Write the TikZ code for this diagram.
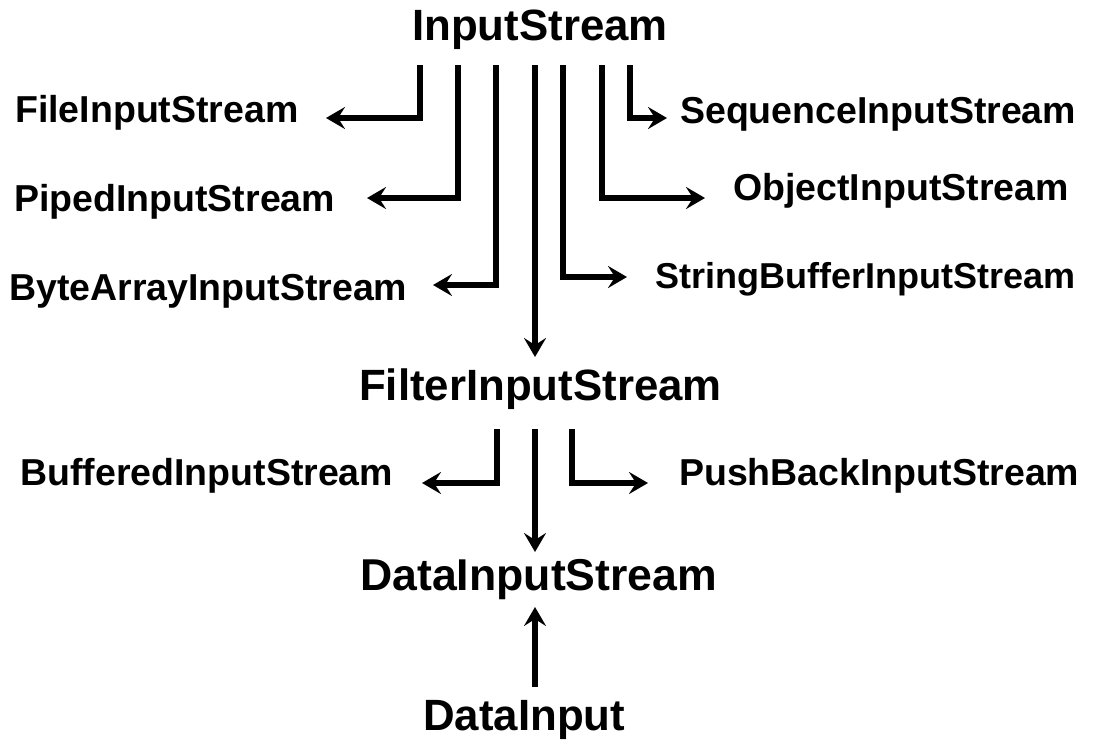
\documentclass[tikz,border=0pt]{standalone}
\usepackage{fontspec}
\setmainfont{Liberation Sans}
\usetikzlibrary{arrows.meta}
\begin{document}
\begin{tikzpicture}[x=1pt,y=-1pt,
  lbl/.style={anchor=base west,inner sep=0pt,font=\bfseries\fontsize{37.5}{38}\selectfont},
  mainlbl/.style={anchor=base west,inner sep=0pt,font=\bfseries\fontsize{43.8}{44}\selectfont},
  arr/.style={line width=5.5pt,line join=miter,-{Stealth[length=19pt,width=22pt,inset=7pt]}}]
\useasboundingbox[fill=white] (0,0) rectangle (1094,740);

% class names
\node[mainlbl] (in)   at (412,40)  {InputStream};
\node[lbl] (file)     at (15,122)  {FileInputStream};
\node[lbl] (piped)    at (14,211)  {PipedInputStream};
\node[lbl] (bytes)    at (9,300)   {ByteArrayInputStream};
\node[lbl] (seq)      at (680,123) {SequenceInputStream};
\node[lbl] (obj)      at (733,200) {ObjectInputStream};
\node[lbl,font=\bfseries\fontsize{36}{36}\selectfont] (sbuf) at (655,288) {StringBufferInputStream};
\node[mainlbl] (filt) at (359,400) {FilterInputStream};
\node[lbl] (buf)      at (20,485)  {BufferedInputStream};
\node[lbl] (push)     at (679,485) {PushBackInputStream};
\node[mainlbl,font=\bfseries\fontsize{44.6}{45}\selectfont] (data) at (360,590) {DataInputStream};
\node[mainlbl] (di)   at (423,730) {DataInput};

% branch points below InputStream
\coordinate (a1) at (420,65);
\coordinate (a2) at (458,65);
\coordinate (a3) at (496,65);
\coordinate (a4) at (535,65);
\coordinate (a5) at (563,65);
\coordinate (a6) at (602,65);
\coordinate (a7) at (630,65);
% arrow ends
\coordinate (e1) at (326,118);
\coordinate (e2) at (367,198);
\coordinate (e3) at (433,285);
\coordinate (e4) at (535,357);
\coordinate (e5) at (627,277);
\coordinate (e6) at (705,198);
\coordinate (e7) at (667,118);

\draw[arr] (a1) |- (e1);
\draw[arr] (a2) |- (e2);
\draw[arr] (a3) |- (e3);
\draw[arr] (a4) -- (e4);
\draw[arr] (a5) |- (e5);
\draw[arr] (a6) |- (e6);
\draw[arr] (a7) |- (e7);

% branch points below FilterInputStream
\coordinate (b1) at (497,429);
\coordinate (b2) at (535,429);
\coordinate (b3) at (572,429);
\coordinate (f1) at (422,483);
\coordinate (f2) at (535,552);
\coordinate (f3) at (648,483);

\draw[arr] (b1) |- (f1);
\draw[arr] (b2) -- (f2);
\draw[arr] (b3) |- (f3);

% DataInput to DataInputStream
\coordinate (u0) at (535,687);
\coordinate (u1) at (535,607);
\draw[arr] (u0) -- (u1);
\end{tikzpicture}
\end{document}
